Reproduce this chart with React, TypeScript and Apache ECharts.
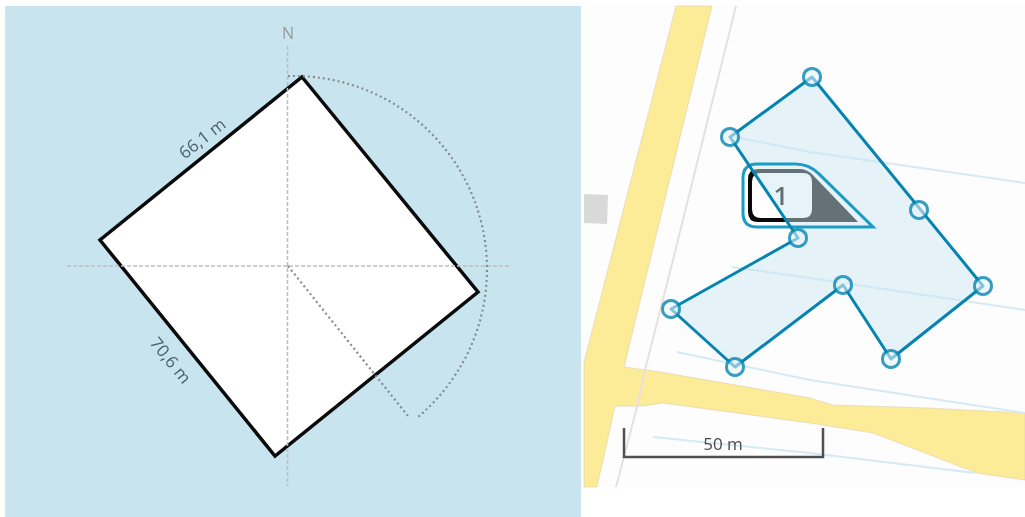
import React, { useEffect, useRef } from "react";
import * as echarts from "echarts";

type Pt = [number, number];

const WIDTH = 1025;
const HEIGHT = 517;

const leftPanel: Pt[] = [[5, 6], [581, 6], [581, 517], [5, 517]];
const plot: Pt[] = [[302, 77], [478, 292], [275, 456], [100, 240]];
const crossH: Pt[] = [[67, 266], [510, 266]];
const crossV: Pt[] = [[287.5, 46], [287.5, 486]];
const azimuthLine: Pt[] = [[288, 266], [408, 416]];
const arcCenter: Pt = [294, 269];
const arcRadius = 193;
const arcStartDeg = -91.8;
const arcEndDeg = 50.5;

const rightPanel: Pt[] = [[583, 6], [1025, 6], [1025, 487], [583, 487]];
const road: Pt[] = [
  [676, 6], [712, 6], [624, 367], [660, 372], [810, 398], [833, 405], [927, 408], [1025, 413],
  [1025, 480], [977, 473], [873, 433], [810, 423], [663, 403], [643, 406], [615, 406], [597, 487],
  [584, 487], [584, 362],
];
const building: Pt[] = [[584, 194], [608, 195], [607, 224], [584, 223]];
const pinkPath: Pt[] = [[736, 6], [673, 260], [645, 370], [637, 407], [616, 487]];
const water1: Pt[] = [[730, 136], [810, 152], [1025, 183]];
const water2: Pt[] = [[732, 267], [810, 278], [1025, 310]];
const water3: Pt[] = [[677, 352], [810, 380], [1025, 413]];
const water4: Pt[] = [[653, 437], [810, 453], [975, 473]];

const lot: Pt[] = [[812, 77], [983, 286], [891, 359], [843, 285], [735, 367], [671, 309], [798, 238], [730, 137]];
const handles: Pt[] = [...lot, [919, 210]];

const labelOuter: [number, number, number][] = [[743, 164, 14], [809, 164, 14], [873, 227, 0], [743, 227, 14]];
const labelDark: [number, number, number][] = [[748, 169, 10], [807, 169, 8], [858, 222, 0], [748, 222, 10]];
const labelInner: [number, number, number][] = [[752, 173, 9], [812, 173, 9], [812, 218, 9], [752, 218, 9]];

const scaleBar: Pt[] = [[624, 428], [624, 457], [823, 457], [823, 428]];

const FONT = '"Open Sans", sans-serif';

const polygonSeries = (pts: Pt[], style: any) => ({
  type: "custom",
  coordinateSystem: "cartesian2d",
  silent: true,
  clip: false,
  data: pts,
  renderItem: (params: any, api: any) =>
    params.dataIndex === 0
      ? { type: "polygon", shape: { points: pts.map((p) => api.coord(p)) }, style }
      : null,
});

const polylineSeries = (pts: Pt[], style: any) => ({
  type: "custom",
  coordinateSystem: "cartesian2d",
  silent: true,
  clip: false,
  data: pts,
  renderItem: (params: any, api: any) =>
    params.dataIndex === 0
      ? { type: "polyline", shape: { points: pts.map((p) => api.coord(p)) }, style: { fill: "none", ...style } }
      : null,
});

const roundedPath = (corners: [number, number, number][], api: any) => {
  const n = corners.length;
  let d = "";
  corners.forEach((c, i) => {
    const prev = corners[(i + n - 1) % n];
    const next = corners[(i + 1) % n];
    const [x, y] = api.coord([c[0], c[1]]);
    const [px, py] = api.coord([prev[0], prev[1]]);
    const [nx, ny] = api.coord([next[0], next[1]]);
    const r = c[2];
    const l1 = Math.hypot(px - x, py - y);
    const l2 = Math.hypot(nx - x, ny - y);
    const a = [x + ((px - x) * r) / l1, y + ((py - y) * r) / l1];
    const b = [x + ((nx - x) * r) / l2, y + ((ny - y) * r) / l2];
    d += `${i === 0 ? "M" : "L"}${a[0]} ${a[1]}Q${x} ${y} ${b[0]} ${b[1]}`;
  });
  return d + "Z";
};

const roundedSeries = (corners: [number, number, number][], style: any) => ({
  type: "custom",
  coordinateSystem: "cartesian2d",
  silent: true,
  clip: false,
  data: corners.map((c) => [c[0], c[1]]),
  renderItem: (params: any, api: any) =>
    params.dataIndex === 0
      ? { type: "path", shape: { pathData: roundedPath(corners, api) }, style }
      : null,
});

const textSeries = (text: string, at: Pt, size: number, fill: string, rotationDeg = 0, weight = 400) => ({
  type: "custom",
  coordinateSystem: "cartesian2d",
  silent: true,
  clip: false,
  data: [at],
  renderItem: (_p: any, api: any) => {
    const [x, y] = api.coord(at);
    return {
      type: "text",
      x,
      y,
      rotation: (rotationDeg * Math.PI) / 180,
      style: {
        text,
        fontFamily: FONT,
        fontSize: size,
        fontWeight: weight,
        fill,
        align: "center",
        verticalAlign: "middle",
      },
    };
  },
});

const dotStyle = { stroke: "#858b8e", lineWidth: 2.2, lineDash: [2, 3] };

const arcSeries = {
  type: "custom",
  coordinateSystem: "cartesian2d",
  silent: true,
  clip: false,
  data: [arcCenter],
  renderItem: (_p: any, api: any) => {
    const [cx, cy] = api.coord(arcCenter);
    return {
      type: "arc",
      shape: {
        cx,
        cy,
        r: arcRadius,
        startAngle: (arcStartDeg * Math.PI) / 180,
        endAngle: (arcEndDeg * Math.PI) / 180,
        clockwise: true,
      },
      style: { fill: "none", ...dotStyle },
    };
  },
};

const waterStyle = { stroke: "#d4eaf4", lineWidth: 2 };
const crossStyle = { stroke: "#bcbfc1", lineWidth: 1.6, lineDash: [4, 2] };
const lotStroke = "#0584b2";

export default function App() {
  const ref = useRef<HTMLDivElement>(null);
  useEffect(() => {
    if (!ref.current) return;
    const chart = echarts.init(ref.current, undefined, { renderer: "svg" });
    chart.setOption({
      animation: false,
      backgroundColor: "#ffffff",
      grid: { left: 0, top: 0, right: 0, bottom: 0 },
      xAxis: { type: "value", min: 0, max: WIDTH, show: false },
      yAxis: { type: "value", min: 0, max: HEIGHT, inverse: true, show: false },
      series: [
        polygonSeries(leftPanel, { fill: "#c8e5ef" }),
        polygonSeries(plot, { fill: "#ffffff", stroke: "#0a0a0a", lineWidth: 3.5, lineJoin: "miter" }),
        polylineSeries(crossH, crossStyle),
        polylineSeries(crossV, crossStyle),
        polylineSeries(azimuthLine, dotStyle),
        arcSeries,
        textSeries("N", [288, 33], 16, "#95999c"),
        textSeries("66,1 m", [202, 138], 17, "#4c5f68", 38),
        textSeries("70,6 m", [171, 360], 17, "#4c5f68", -51),

        polygonSeries(rightPanel, { fill: "#fdfdfd" }),
        polygonSeries(road, { fill: "#fdec97", stroke: "rgba(225,205,170,0.6)", lineWidth: 1 }),
        polygonSeries(building, { fill: "#d9d9d9" }),
        polylineSeries(pinkPath, { stroke: "#eadfe0", lineWidth: 2 }),
        polylineSeries(water1, waterStyle),
        polylineSeries(water2, waterStyle),
        polylineSeries(water3, waterStyle),
        polylineSeries(water4, waterStyle),
        polylineSeries(scaleBar, { stroke: "#505050", lineWidth: 2.5 }),
        textSeries("50 m", [723, 443], 17, "#4a4a4a"),

        roundedSeries(labelOuter, { fill: "#ffffff" }),
        roundedSeries(labelDark, { fill: "#0a0a0a" }),
        roundedSeries(labelInner, { fill: "#ffffff" }),
        textSeries("1", [781, 195], 26, "#000000", 0, 600),

        polygonSeries(lot, { fill: "rgba(202,229,243,0.47)" }),
        roundedSeries(labelOuter, { fill: "none", stroke: "#1b9bc5", lineWidth: 3 }),
        polygonSeries(lot, { fill: "none", stroke: lotStroke, lineWidth: 3, lineJoin: "round" }),
        {
          type: "scatter",
          silent: true,
          clip: false,
          data: handles,
          symbol: "circle",
          symbolSize: 17,
          itemStyle: { color: "rgba(232,244,250,0.7)", borderColor: lotStroke, borderWidth: 3 },
        },
      ],
    });
    return () => chart.dispose();
  }, []);
  return (
    <div
      ref={ref}
      style={{ position: "absolute", left: 0, top: 0, width: WIDTH, height: HEIGHT, filter: "blur(0.6px)" }}
    />
  );
}
